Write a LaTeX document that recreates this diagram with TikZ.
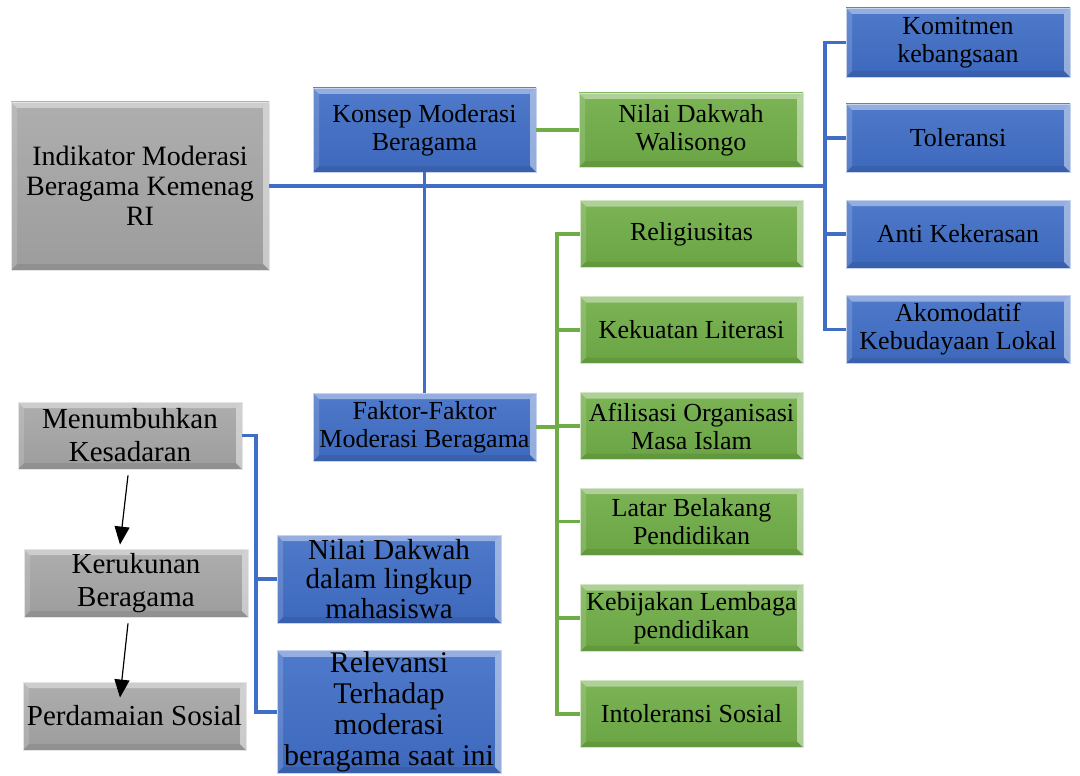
\documentclass[tikz,border=0pt]{standalone}
\usepackage{fontspec}
\setmainfont{Liberation Serif}
\definecolor{kmblue}{RGB}{64,110,198}
\definecolor{kmgreen}{RGB}{112,173,71}
\definecolor{kmgray}{RGB}{165,165,165}
\usetikzlibrary{arrows.meta,calc}

\begin{document}
\begin{tikzpicture}[
  x=1pt,y=-1pt,
  every node/.style={font=\fontsize{26}{28}\selectfont},
  bevel/.style={path picture={
    \fill[white,opacity=.4] (path picture bounding box.north west) -- (path picture bounding box.north east)
      -- ([shift={(-6pt,-6pt)}]path picture bounding box.north east) -- ([shift={(6pt,-6pt)}]path picture bounding box.north west) -- cycle;
    \fill[white,opacity=.15] (path picture bounding box.north west) -- ([shift={(6pt,-6pt)}]path picture bounding box.north west)
      -- ([shift={(6pt,6pt)}]path picture bounding box.south west) -- (path picture bounding box.south west) -- cycle;
    \fill[white,opacity=.45] (path picture bounding box.north east) -- ([shift={(-6pt,-6pt)}]path picture bounding box.north east)
      -- ([shift={(-6pt,6pt)}]path picture bounding box.south east) -- (path picture bounding box.south east) -- cycle;
    \fill[black,opacity=.08] (path picture bounding box.south west) -- ([shift={(6pt,6pt)}]path picture bounding box.south west)
      -- ([shift={(-6pt,6pt)}]path picture bounding box.south east) -- (path picture bounding box.south east) -- cycle;
  }},
  kbox/.style={rectangle,align=center,inner sep=1pt,minimum width=224pt,minimum height=68pt,
               line width=.8pt,bevel},
  bbox/.style={kbox,top color=kmblue!92!white,bottom color=kmblue!95!black,draw=kmblue!30!white},
  gbox/.style={kbox,top color=kmgreen!92!white,bottom color=kmgreen!95!black,draw=kmgreen!30!white},
  abox/.style={kbox,top color=kmgray!90!white,bottom color=kmgray!95!black,draw=kmgray!30!white,
               font=\fontsize{29}{33}\selectfont},
  bline/.style={draw=kmblue,line width=3.2pt},
  gline/.style={draw=kmgreen,line width=3.2pt},
  arr/.style={-{Triangle[length=18pt,width=15pt]},line width=1.2pt,black},
]
  \useasboundingbox (0,0) rectangle (1080,776);

  % main indicator
  \node[abox,minimum width=258pt,minimum height=168pt,font=\fontsize{28}{30}\selectfont] (ind) at (140,186)
    {Indikator Moderasi\\Beragama Kemenag\\RI};

  % concept and factors
  \node[bbox,minimum width=223pt,minimum height=84pt] (konsep) at (424.5,130) {Konsep Moderasi\\Beragama};
  \node[gbox,minimum height=74pt] (wali) at (691,130) {Nilai Dakwah\\Walisongo};
  \node[bbox,minimum width=223pt] (faktor) at (424.5,427) {Faktor-Faktor\\Moderasi Beragama};

  % indicators (right)
  \node[bbox,minimum height=69pt] (komit) at (958,42.5) {Komitmen\\kebangsaan};
  \node[bbox] (toler) at (958,138) {Toleransi};
  \node[bbox] (anti) at (958,234) {Anti Kekerasan};
  \node[bbox] (akom) at (958,329.5) {Akomodatif\\Kebudayaan Lokal};

  % factors (green column)
  \node[gbox,minimum width=223pt,minimum height=67pt] (relig) at (691.5,234) {Religiusitas};
  \node[gbox,minimum width=223pt,minimum height=67pt] (liter) at (691.5,330) {Kekuatan Literasi};
  \node[gbox,minimum width=223pt,minimum height=67pt] (afil) at (691.5,426) {Afilisasi Organisasi\\Masa Islam};
  \node[gbox,minimum width=223pt,minimum height=67pt] (latar) at (691.5,521.5) {Latar Belakang\\Pendidikan};
  \node[gbox,minimum width=223pt,minimum height=67pt] (bijak) at (691.5,618) {Kebijakan Lembaga\\pendidikan};
  \node[gbox,minimum width=223pt,minimum height=67pt] (intol) at (691.5,714) {Intoleransi Sosial};

  % outcome chain (left)
  \node[abox,minimum height=67pt] (tumbuh) at (130,435.5) {Menumbuhkan\\Kesadaran};
  \node[abox] (rukun) at (136,583) {Kerukunan\\Beragama};
  \node[abox,minimum width=223pt] (damai) at (134.5,716) {Perdamaian Sosial};

  % dakwah (bottom)
  \node[bbox,minimum height=88pt,font=\fontsize{29}{29.5}\selectfont] (mhs) at (389,579)
    {Nilai Dakwah\\dalam lingkup\\mahasiswa};
  \node[bbox,minimum height=122pt,font=\fontsize{30}{31}\selectfont] (relev) at (389,712)
    {Relevansi\\Terhadap\\moderasi\\beragama saat ini};

  % junction points
  \coordinate (rt) at (825,186);
  \coordinate (gt) at (557,427);
  \coordinate (lt) at (256,435.5);

  % connectors
  \draw[bline] (ind.east) -- (rt);
  \foreach \n in {komit,toler,anti,akom}
    \draw[bline] (rt) |- (\n.west);
  \draw[bline] (konsep.south) -- (faktor.north);
  \draw[gline] (konsep.east) -- (wali.west);
  \draw[gline] (faktor.east) -- (gt);
  \foreach \n in {relig,liter,afil,latar,bijak,intol}
    \draw[gline] (gt) |- (\n.west);
  \draw[bline] (tumbuh.east) -- (lt) |- (relev.west);
  \draw[bline] (lt) |- (mhs.west);

  % arrows
  \draw[arr] ([shift={(-2pt,-6pt)}]tumbuh.south) -- ([shift={(-16pt,4pt)}]rukun.north);
  \draw[arr] ([shift={(-8pt,-6pt)}]rukun.south) -- ([shift={(-14.5pt,-16pt)}]damai.north);
\end{tikzpicture}
\end{document}
